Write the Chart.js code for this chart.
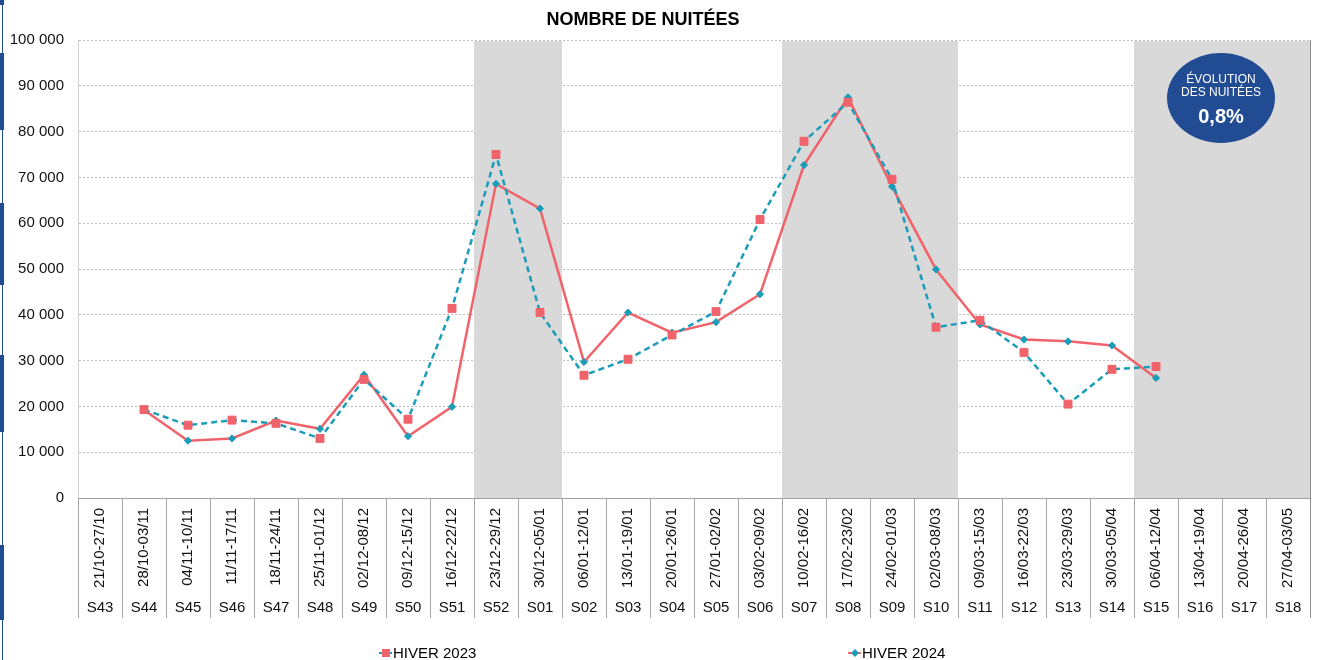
<!DOCTYPE html>
<html>
<head>
<meta charset="utf-8">
<script src="https://cdn.jsdelivr.net/npm/chart.js@4.4.1/dist/chart.umd.min.js"></script>
<style>
  html, body { margin: 0; padding: 0; background: #fff; }
  #wrap { width: 1324px; height: 660px; position: relative; }
</style>
</head>
<body>
<div id="wrap"><canvas id="nuiteesChart"></canvas></div>
<script>
const weeks = ['S43','S44','S45','S46','S47','S48','S49','S50','S51','S52',
  'S01','S02','S03','S04','S05','S06','S07','S08','S09','S10',
  'S11','S12','S13','S14','S15','S16','S17','S18'];

const periods = ['21/10-27/10','28/10-03/11','04/11-10/11','11/11-17/11','18/11-24/11',
  '25/11-01/12','02/12-08/12','09/12-15/12','16/12-22/12','23/12-29/12','30/12-05/01',
  '06/01-12/01','13/01-19/01','20/01-26/01','27/01-02/02','03/02-09/02','10/02-16/02',
  '17/02-23/02','24/02-01/03','02/03-08/03','09/03-15/03','16/03-22/03','23/03-29/03',
  '30/03-05/04','06/04-12/04','13/04-19/04','20/04-26/04','27/04-03/05'];

const hiver2023 = [null, 19300, 15900, 17000, 16300, 13000, 25900, 17200, 41400, 75000,
  40500, 26800, 30300, 35600, 40700, 60800, 77900, 86400, 69600, 37300,
  38800, 31800, 20500, 28100, 28700, null, null, null];

const hiver2024 = [null, 19200, 12500, 13000, 16900, 15100, 26900, 13500, 19900, 68600,
  63200, 29700, 40500, 36100, 38400, 44500, 72700, 87500, 68000, 49900,
  37900, 34600, 34200, 33300, 26200, null, null, null];

// school holiday weeks (grey bands)
const holidays = [['S52','S01'], ['S07','S10'], ['S15','S18']];

const evolutionText = ['ÉVOLUTION', 'DES NUITÉES'];
const evolutionValue = '0,8%';

const RED = '#f0636b';
const TEAL = '#1b9db9';
const FONT = "'Liberation Sans', Arial, sans-serif";

function fmt(v) {
  return String(v).replace(/\B(?=(\d{3})+(?!\d))/g, ' ');
}

const bandsPlugin = {
  id: 'bands',
  beforeDatasetsDraw(chart) {
    const { ctx, chartArea, scales } = chart;
    const xs = scales.x;
    const half = (xs.getPixelForValue(1) - xs.getPixelForValue(0)) / 2;
    ctx.save();
    ctx.fillStyle = '#d9d9d9';
    holidays.forEach(([a, b]) => {
      const x0 = xs.getPixelForValue(weeks.indexOf(a)) - half;
      const x1 = xs.getPixelForValue(weeks.indexOf(b)) + half;
      ctx.fillRect(x0, chartArea.top + 1, x1 - x0, chartArea.bottom - chartArea.top - 1);
    });
    ctx.restore();
  }
};

function drawMarker(ctx, style, x, y, color) {
  ctx.fillStyle = color;
  ctx.beginPath();
  if (style === 'rect') {
    ctx.rect(x - 4, y - 4, 8, 8);
  } else {
    ctx.moveTo(x, y - 4); ctx.lineTo(x + 4, y); ctx.lineTo(x, y + 4); ctx.lineTo(x - 4, y);
    ctx.closePath();
  }
  ctx.fill();
}

const decorPlugin = {
  id: 'decor',
  afterDraw(chart) {
    const { ctx, chartArea, scales } = chart;
    const xs = scales.x, x2 = scales.x2;
    const half = (xs.getPixelForValue(1) - xs.getPixelForValue(0)) / 2;
    ctx.save();

    // category separators across both label rows
    ctx.strokeStyle = '#a6a6a6';
    ctx.lineWidth = 1;
    for (let i = 0; i <= weeks.length; i++) {
      const x = Math.round(xs.getPixelForValue(0) - half + i * 2 * half) + 0.5;
      ctx.beginPath();
      ctx.moveTo(x, chartArea.bottom);
      ctx.lineTo(x, x2.bottom);
      ctx.stroke();
    }
    // right frame line
    ctx.strokeStyle = '#8c8c8c';
    ctx.beginPath();
    ctx.moveTo(chartArea.right + 0.5, chartArea.top);
    ctx.lineTo(chartArea.right + 0.5, x2.bottom);
    ctx.stroke();

    // title
    ctx.fillStyle = '#000';
    ctx.font = 'bold 18px ' + FONT;
    ctx.textAlign = 'center';
    ctx.textBaseline = 'middle';
    ctx.fillText('NOMBRE DE NUITÉES', 643, 20);

    // evolution badge
    ctx.fillStyle = '#214c94';
    ctx.beginPath();
    ctx.ellipse(1221, 98, 54, 45, 0, 0, Math.PI * 2);
    ctx.fill();
    ctx.fillStyle = '#fff';
    ctx.font = '12px ' + FONT;
    ctx.fillText(evolutionText[0], 1221, 80);
    ctx.fillText(evolutionText[1], 1221, 93);
    ctx.font = 'bold 20px ' + FONT;
    ctx.fillText(evolutionValue, 1221, 117);

    // legend
    const items = [
      { text: chart.data.datasets[0].label, x: 379, line: TEAL, marker: 'rect', mcolor: RED },
      { text: chart.data.datasets[1].label, x: 848, line: RED, marker: 'diamond', mcolor: TEAL }
    ];
    const ly = 653;
    items.forEach(it => {
      ctx.strokeStyle = it.line;
      ctx.lineWidth = 2;
      ctx.beginPath();
      ctx.moveTo(it.x, ly);
      ctx.lineTo(it.x + 13, ly);
      ctx.stroke();
      drawMarker(ctx, it.marker, it.x + 7, ly, it.mcolor);
      ctx.fillStyle = '#000';
      ctx.font = '15px ' + FONT;
      ctx.textAlign = 'left';
      ctx.fillText(it.text, it.x + 14, ly + 1);
    });

    // left page edge decoration
    ctx.fillStyle = '#214c94';
    [[0, 5], [53, 130], [203, 285], [355, 432], [545, 620]].forEach(([a, b]) => {
      ctx.fillRect(0, a, 4, b - a);
    });
    ctx.fillRect(2, 0, 1, 660);
    ctx.restore();
  }
};

new Chart(document.getElementById('nuiteesChart'), {
  type: 'line',
  data: {
    labels: periods,
    datasets: [{
      label: 'HIVER 2023',
      data: hiver2023,
      borderColor: TEAL,
      borderWidth: 2.5,
      borderDash: [6, 4],
      pointStyle: 'rect',
      pointRadius: 5.6,
      pointBackgroundColor: RED,
      pointBorderColor: RED,
      pointBorderWidth: 1,
      tension: 0
    }, {
      label: 'HIVER 2024',
      data: hiver2024,
      borderColor: RED,
      borderWidth: 2.5,
      pointStyle: 'rectRot',
      pointRadius: 3.6,
      pointBackgroundColor: TEAL,
      pointBorderColor: TEAL,
      pointBorderWidth: 1,
      tension: 0
    }]
  },
  options: {
    responsive: true,
    maintainAspectRatio: false,
    animation: false,
    layout: { padding: { top: 40, right: 14, bottom: 42, left: 0 } },
    plugins: {
      legend: { display: false },
      title: { display: false },
      tooltip: { enabled: false }
    },
    scales: {
      x: {
        type: 'category',
        labels: periods,
        offset: true,
        position: 'bottom',
        grid: { display: false, drawTicks: false },
        border: { display: true, color: '#a0a0a0', width: 1 },
        ticks: {
          autoSkip: false,
          minRotation: 90,
          maxRotation: 90,
          padding: 10,
          color: '#111',
          font: { family: FONT, size: 15 }
        },
        afterFit(scale) { scale.height = 99; }
      },
      x2: {
        type: 'category',
        labels: weeks,
        offset: true,
        position: 'bottom',
        grid: { display: false, drawTicks: false },
        border: { display: false },
        ticks: {
          autoSkip: false,
          maxRotation: 0,
          minRotation: 0,
          padding: 2,
          color: '#111',
          font: { family: FONT, size: 15 }
        },
        afterFit(scale) { scale.height = 21; }
      },
      y: {
        min: 0,
        max: 100000,
        ticks: {
          stepSize: 10000,
          padding: 14,
          color: '#111',
          font: { family: FONT, size: 15 },
          callback: v => fmt(v)
        },
        grid: { color: '#bdbdbd', drawTicks: false },
        border: { display: true, color: '#d0d0d0', dash: [2, 2] },
        afterFit(scale) { scale.width = 78; }
      }
    }
  },
  plugins: [bandsPlugin, decorPlugin]
});
</script>
</body>
</html>
